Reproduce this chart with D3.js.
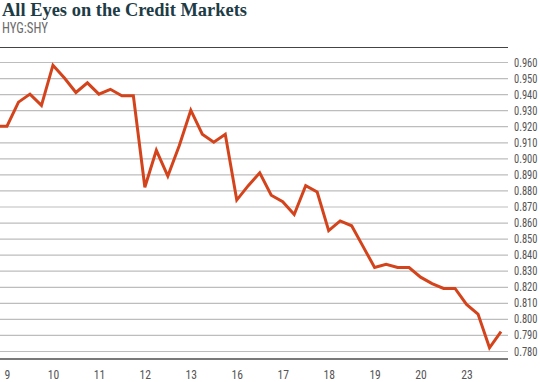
<!DOCTYPE html>
<html>
<head>
<meta charset="utf-8">
<script src="https://cdn.jsdelivr.net/npm/d3@7"></script>
<style>
  body { margin: 0; background: #fff; }
  svg { display: block; }
</style>
</head>
<body>
<div id="chart"></div>
<script>
// day labels, one every 4 readings
var days = ["9", "10", "11", "12", "13", "16", "17", "18", "19", "20", "23"];
var perDay = 4;
// last reading before the window (drawn partly, clipped at the left edge)
var priorValue = 0.920;
// HYG:SHY ratio readings
var ratio = [
  0.920, 0.935, 0.940, 0.933,
  0.958, 0.950, 0.941, 0.947,
  0.940, 0.943, 0.939, 0.939,
  0.882, 0.905, 0.889, 0.908,
  0.930, 0.915, 0.910, 0.915,
  0.874, 0.883, 0.891, 0.877,
  0.873, 0.865, 0.883, 0.879,
  0.855, 0.861, 0.858, 0.845,
  0.832, 0.834, 0.832, 0.832,
  0.826, 0.822, 0.819, 0.819,
  0.809, 0.803, 0.782, 0.792
];
var yTicks = [0.960, 0.950, 0.940, 0.930, 0.920, 0.910, 0.900, 0.890, 0.880, 0.870,
              0.860, 0.850, 0.840, 0.830, 0.820, 0.810, 0.800, 0.790, 0.780];

var W = 540, H = 382;
var plotRight = 508;
var condensed = "'Roboto Condensed', 'Liberation Sans Narrow', Roboto, sans-serif";

// squeeze a text horizontally (no condensed font installed)
function fit(sel, maxW) {
  sel.each(function() {
    var t = d3.select(this);
    var w = this.getComputedTextLength();
    if (w <= maxW) return;
    var x0 = +t.attr("x") || 0, y0 = +t.attr("y") || 0;
    t.attr("x", 0).attr("y", 0)
      .attr("transform", "translate(" + x0 + "," + y0 + ") scale(" + (maxW / w) + ",1)");
  });
}

var svg = d3.select("#chart").append("svg")
  .attr("width", W)
  .attr("height", H);

// title
svg.append("text")
  .attr("x", 2).attr("y", 16)
  .attr("font-family", "'Liberation Serif', 'DejaVu Serif', serif")
  .attr("font-weight", "bold")
  .attr("font-size", "18.6px")
  .attr("fill", "#1e3c46")
  .text("All Eyes on the Credit Markets")
  .call(fit, 245);

svg.append("text")
  .attr("x", 2).attr("y", 33)
  .attr("font-family", condensed)
  .attr("font-size", "14.5px")
  .attr("fill", "#6b6b6b")
  .text("HYG:SHY")
  .call(fit, 46);

// all points incl. the prior one (index 0)
var series = [priorValue].concat(ratio);

var x = d3.scaleLinear()
  .domain([0, series.length - 1])
  .range([-4.5, 501]);

var y = d3.scaleLinear()
  .domain([0.780, 0.960])
  .range([351, 62]);

// top rule
svg.append("line")
  .attr("x1", 0).attr("x2", plotRight)
  .attr("y1", 47.5).attr("y2", 47.5)
  .attr("stroke", "#444").attr("stroke-width", 1);

// grid + right axis labels
var yAxis = d3.axisRight(y)
  .tickValues(yTicks)
  .tickSize(plotRight)
  .tickPadding(6)
  .tickFormat(d3.format(".3f"));

var gy = svg.append("g").call(yAxis);
gy.select(".domain").remove();
gy.selectAll(".tick line")
  .attr("stroke", "#bdbdbd")
  .attr("stroke-width", 1.2);
gy.selectAll(".tick text")
  .attr("font-family", condensed)
  .attr("font-size", "12.5px")
  .attr("fill", "#555")
  .call(fit, 23.5);

// bottom axis
var labelIdx = days.map(function(d, i) { return 1 + i * perDay; });
var xAxis = d3.axisBottom(x)
  .tickValues(labelIdx)
  .tickSize(0)
  .tickPadding(10)
  .tickFormat(function(d) { return days[(d - 1) / perDay]; });

var gx = svg.append("g")
  .attr("transform", "translate(0,359)")
  .call(xAxis);
gx.select(".domain").remove();
gx.selectAll(".tick text")
  .attr("font-family", condensed)
  .attr("font-size", "13.5px")
  .attr("fill", "#555")
  .each(function() {
    var t = d3.select(this);
    fit(t, t.text().length > 1 ? 11.5 : 5.8);
  });

svg.append("line")
  .attr("x1", 0).attr("x2", plotRight)
  .attr("y1", 359).attr("y2", 359)
  .attr("stroke", "#7a7a7a").attr("stroke-width", 2);

// line
svg.append("clipPath").attr("id", "clip")
  .append("rect")
  .attr("x", 0).attr("y", 40)
  .attr("width", plotRight).attr("height", 320);

var line = d3.line()
  .x(function(d, i) { return x(i); })
  .y(function(d) { return y(d); });

svg.append("path")
  .datum(series)
  .attr("clip-path", "url(#clip)")
  .attr("fill", "none")
  .attr("stroke", "#d4441c")
  .attr("stroke-width", 3)
  .attr("stroke-linejoin", "miter")
  .attr("d", line);
</script>
</body>
</html>
